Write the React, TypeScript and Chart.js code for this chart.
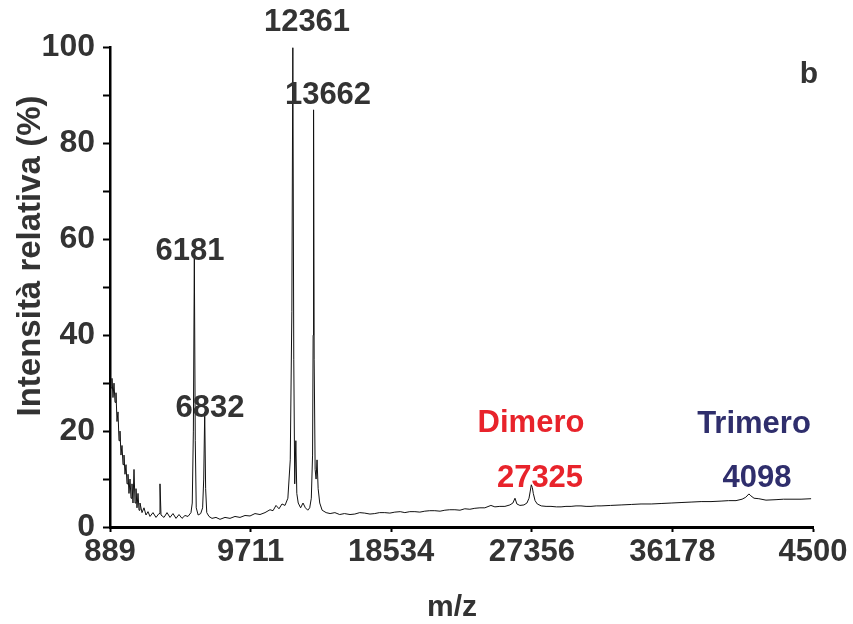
import React, { useEffect, useRef } from 'react';
import { Chart, registerables } from 'chart.js';

Chart.register(...registerables);

// ---- data ----
const mz = [
  952, 1014, 1077, 1140, 1203, 1265, 1328, 1391, 1454, 1516, 1579, 1642, 1705, 1767, 1830, 1893, 1956, 2018,
  2081, 2144, 2207, 2269, 2332, 2395, 2458, 2520, 2583, 2646, 2709, 2771, 2897, 3022, 3148, 3273, 3399, 3587,
  3775, 3964, 4026, 4089, 4277, 4466, 4654, 4842, 5030, 5219, 5407, 5595, 5783,
  5970, 6050, 6120, 6181, 6240, 6300, 6420, 6580, 6700, 6770, 6832, 6890, 6960, 7100,
  7289, 7540, 7791, 8105, 8419, 8732, 9046, 9360, 9674, 9987, 10301, 10615, 10929, 11117, 11305, 11493, 11681, 11870,
  12050, 12200, 12300, 12361, 12420, 12480, 12550, 12610, 12700, 12850, 13000, 13150, 13300, 13420, 13520, 13600,
  13635, 13662, 13700, 13760, 13820, 13880, 13950, 14050, 14200,
  14450, 14700, 15000, 15300, 15600, 15950, 16250, 16560, 16870, 17200, 17500, 17800, 18130, 18450, 18760, 19100,
  19390, 19700, 20020, 20330, 20640, 20950, 21270, 21600, 21900, 22200, 22530, 22850, 23150, 23470, 23780, 24100,
  24410, 24790, 25040, 25350, 25670, 25980, 26170, 26300, 26420, 26610, 26860, 27050, 27180, 27260, 27325, 27390,
  27450, 27560, 27700, 27950, 28250, 28560, 28900, 29190, 29500, 29820, 30130, 30440, 30760, 31070, 31400, 31700,
  32300, 32960, 33600, 34210, 34850, 35470, 36100, 36720, 37350, 37980, 38600, 39230, 39700, 40170, 40550, 40780,
  40980, 41100, 41300, 41600, 42050, 42680, 43150, 43620, 44250, 44880,
];

const intensity = [
  29, 31, 27, 30, 26, 28, 22, 24, 18, 20, 15, 17, 13, 15, 11, 13, 9, 11,
  7, 10, 6, 9, 5, 12, 5, 8, 4, 7, 3.5, 5, 3, 4, 2.5, 3.2, 2.2, 3,
  2, 2.8, 9, 2.5, 2, 3, 2, 2.8, 1.8, 2.6, 1.8, 2.4, 2.2,
  3, 5, 20, 56, 18, 4, 2.5, 2.8, 4, 10, 24, 8, 3, 2.2,
  1.8, 2, 1.6, 2, 1.8, 2.2, 2, 2.4, 2.3, 2.8, 2.6, 3, 3.6, 3.4, 4.5, 3.8, 4.8, 4.5,
  6, 14, 45, 100, 35, 9, 18, 7, 5, 4, 5, 4, 3.5, 4, 6, 15,
  40, 87, 35, 12, 10, 14, 8, 5, 3.5,
  3, 2.8, 3, 2.6, 2.8, 2.6, 2.7, 3, 2.9, 2.7, 2.8, 3, 3.0, 2.9, 3.1, 3.2,
  3.0, 3.2, 3.2, 3.1, 3.3, 3.4, 3.4, 3.3, 3.5, 3.6, 3.6, 3.5, 3.8, 3.7, 3.9, 4.0,
  4.0, 4.5, 4.2, 4.3, 4.3, 4.6, 5.0, 6.0, 4.8, 4.5, 4.6, 5.0, 6.0, 7.5, 8.8, 8.2,
  7.0, 5.5, 4.8, 4.4, 4.3, 4.3, 4.2, 4.2, 4.3, 4.3, 4.4, 4.4, 4.3, 4.3, 4.4, 4.4,
  4.5, 4.6, 4.7, 4.8, 4.8, 4.9, 5.0, 5.1, 5.2, 5.3, 5.3, 5.4, 5.5, 5.5, 5.8, 6.2,
  6.9, 6.5, 6.0, 5.9, 5.6, 5.7, 5.8, 5.8, 5.8, 5.9,
];

const xTickValues = [889, 9711, 18534, 27356, 36178, 45000];
const xTickLabels = ['889', '9711', '18534', '27356', '36178', '4500'];
const yTickValues = [0, 10, 20, 30, 40, 50, 60, 70, 80, 90, 100];
const yTickLabels = ['0', '', '20', '', '40', '', '60', '', '80', '', '100'];

// annotation texts, anchored in data units (m/z, intensity)
const labelTexts = ['12361', '13662', '6181', '6832', 'Dimero', '27325', 'Trimero', '4098', 'b'];
const labelMz = [13250, 14568, 5909, 7164, 27306, 27870, 41298, 41486, 44749];
const labelInt = [105.3, 90.1, 57.4, 24.8, 21.5, 10.2, 21.3, 10.2, 94.3];
const labelGroup = ['peak', 'peak', 'peak', 'peak', 'dimer', 'dimer', 'trimer', 'trimer', 'panel'];

const xTitle = 'm/z';
const yTitle = 'Intensità relativa (%)';

// ---- styles ----
const FONT = "'Liberation Sans', Arial, Helvetica, sans-serif";
const TEXT = '#333333';
const groupColor: Record<string, string> = {
  peak: TEXT,
  dimer: '#e8232b',
  trimer: '#2f2e6c',
  panel: TEXT,
};

const overlayPlugin = {
  id: 'overlayTexts',
  afterDraw(chart: any) {
    const ctx = chart.ctx as CanvasRenderingContext2D;
    const xs = chart.scales.x;
    const ys = chart.scales.y;
    ctx.save();
    ctx.textAlign = 'center';
    ctx.textBaseline = 'middle';
    labelTexts.forEach((t, i) => {
      const g = labelGroup[i];
      ctx.font = `bold ${g === 'panel' ? 30 : 31}px ${FONT}`;
      ctx.fillStyle = groupColor[g];
      ctx.fillText(t, xs.getPixelForValue(labelMz[i]), ys.getPixelForValue(labelInt[i]));
    });
    // axis titles
    ctx.fillStyle = TEXT;
    ctx.font = `bold 30px ${FONT}`;
    ctx.fillText(xTitle, 452, 608);
    ctx.translate(40, 256);
    ctx.rotate(-Math.PI / 2);
    ctx.textBaseline = 'alphabetic';
    ctx.font = `bold 33px ${FONT}`;
    ctx.fillText(yTitle, 0, 0);
    ctx.restore();
  },
};

export default function App() {
  const ref = useRef<HTMLCanvasElement | null>(null);
  useEffect(() => {
    if (!ref.current) return;
    const chart = new Chart(ref.current, {
      type: 'line',
      data: {
        datasets: [
          {
            data: mz.map((x, i) => ({ x, y: intensity[i] })),
            borderColor: '#111111',
            borderWidth: 1,
            pointRadius: 0,
            tension: 0,
            fill: false,
          },
        ],
      },
      options: {
        animation: false,
        responsive: false,
        devicePixelRatio: 1,
        layout: { padding: { left: 0, right: 40, top: 47.5, bottom: 0 } },
        plugins: { legend: { display: false }, tooltip: { enabled: false } },
        scales: {
          x: {
            type: 'linear',
            min: 889,
            max: 45000,
            afterBuildTicks: (s: any) => {
              s.ticks = xTickValues.map((v) => ({ value: v }));
            },
            afterFit: (s: any) => {
              s.height = 97;
            },
            border: { display: true, color: '#000', width: 3 },
            grid: { drawOnChartArea: false, drawTicks: true, tickLength: 5, tickWidth: 2, color: '#000' },
            ticks: {
              autoSkip: false,
              maxRotation: 0,
              padding: 2,
              color: TEXT,
              font: { family: FONT, size: 31, weight: 'bold' },
              callback: (v: any) => {
                const i = xTickValues.indexOf(Number(v));
                return i >= 0 ? xTickLabels[i] : '';
              },
            },
          },
          y: {
            type: 'linear',
            min: 0,
            max: 100,
            afterBuildTicks: (s: any) => {
              s.ticks = yTickValues.map((v) => ({ value: v }));
            },
            afterFit: (s: any) => {
              s.width = 110;
            },
            border: { display: true, color: '#000', width: 2.5 },
            grid: { drawOnChartArea: false, drawTicks: true, tickLength: 7, tickWidth: 2, color: '#000' },
            ticks: {
              autoSkip: false,
              padding: 8,
              color: TEXT,
              font: { family: FONT, size: 32, weight: 'bold' },
              callback: (v: any) => {
                const i = yTickValues.indexOf(Number(v));
                return i >= 0 ? yTickLabels[i] : '';
              },
            },
          },
        },
      },
      plugins: [overlayPlugin],
    } as any);
    return () => chart.destroy();
  }, []);
  return (
    <div style={{ position: 'absolute', left: 0, top: 0, width: 853, height: 624, background: '#fff' }}>
      <canvas ref={ref} width={853} height={624} style={{ display: 'block', width: 853, height: 624 }} />
    </div>
  );
}
